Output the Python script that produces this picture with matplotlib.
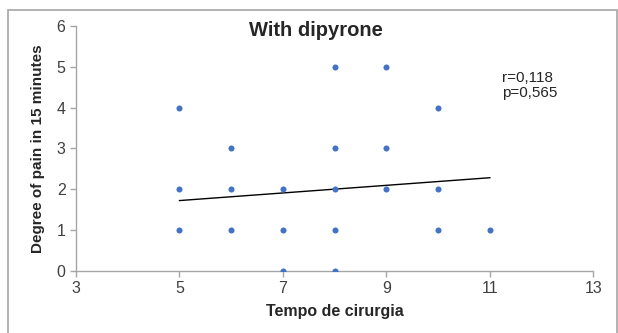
import matplotlib
matplotlib.use("Agg")
import matplotlib.pyplot as plt
from matplotlib.patches import Rectangle

plt.rcParams['font.family'] = ['Liberation Sans', 'DejaVu Sans']

# surgery time vs pain score (15 min)
tempo = [5, 5, 5, 6, 6, 6, 7, 7, 7, 8, 8, 8, 8, 8, 9, 9, 9, 10, 10, 10, 11]
dor = [4, 2, 1, 3, 2, 1, 2, 1, 0, 5, 3, 2, 1, 0, 5, 3, 2, 4, 2, 1, 1]

# linear trend line as drawn in the source
trend_x = [5, 11]
trend_y = [1.72, 2.28]

x_ticks = [3, 5, 7, 9, 11, 13]
y_ticks = [0, 1, 2, 3, 4, 5, 6]

fig = plt.figure(figsize=(6.18, 3.33), dpi=100)
ax = fig.add_axes([0.123, 0.187, 0.837, 0.735])

# outer frame of the exported chart
fig.patches.append(Rectangle((8 / 618, -0.05), 609 / 618, 1.05 - 10 / 333,
                             transform=fig.transFigure, fill=False,
                             edgecolor='#a6a6a6', linewidth=1.2))

ax.scatter(tempo, dor, s=19, color='#4472c4', zorder=3, linewidths=0)
ax.plot(trend_x, trend_y, color='black', linewidth=1.0)

ax.set_xlim(3, 13)
ax.set_ylim(0, 6)
ax.set_xticks(x_ticks)
ax.set_yticks(y_ticks)

for side in ['top', 'right']:
    ax.spines[side].set_visible(False)
for side in ['left', 'bottom']:
    ax.spines[side].set_color('#a6a6a6')
    ax.spines[side].set_linewidth(1.0)
ax.tick_params(axis='both', colors='#a6a6a6', length=4, width=1.0,
               labelcolor='#404040', labelsize=11.5)

ax.set_xlabel('Tempo de cirurgia', fontsize=11.5, fontweight='bold', color='#262626', labelpad=6)
ax.set_ylabel('Degree of pain in 15 minutes', fontsize=11, fontweight='bold', color='#262626', labelpad=8)
fig.text(316 / 618, 1 - 21 / 333, 'With dipyrone', ha='center', va='top',
         fontsize=14.5, fontweight='bold', color='#262626')
ax.text(0.823, 0.815, 'r=0,118\np=0,565', transform=ax.transAxes, ha='left', va='top',
        fontsize=11, color='#262626', linespacing=1.05)

fig.savefig('out.png', dpi=100)
